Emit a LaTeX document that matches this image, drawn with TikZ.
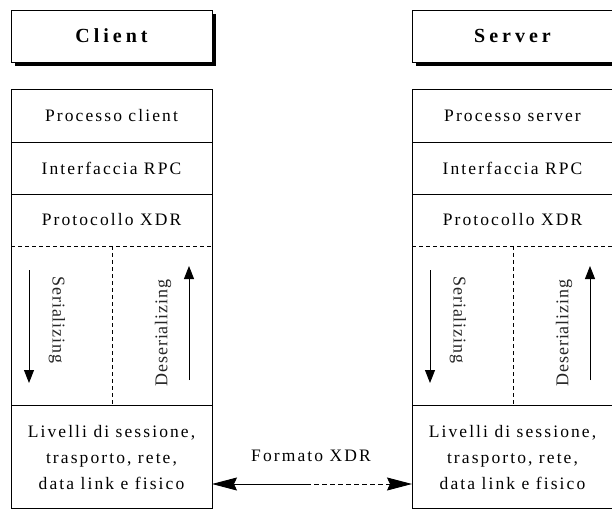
\documentclass[tikz,border=0pt]{standalone}
\usepackage{fontspec}
\setmainfont{Liberation Serif}
\newfontfamily\spacedfont[LetterSpace=12]{Liberation Serif}
\newfontfamily\headfont[LetterSpace=20]{Liberation Serif}
\newfontfamily\sidefont[LetterSpace=5]{Liberation Serif}
\usetikzlibrary{arrows.meta}

\tikzset{
  frame/.style={line width=0.9pt, draw=black},
  dashline/.style={frame, dash pattern=on 4pt off 3pt},
  titlebox/.style={frame, fill=white, minimum width=201pt, minimum height=52pt,
    inner sep=0pt, font=\headfont\bfseries\fontsize{20}{24}\selectfont},
  shadow/.style={fill=black},
  layertext/.style={inner sep=0pt, align=center,
    font=\spacedfont\fontsize{17.5}{26}\selectfont},
  sidetext/.style={inner sep=0pt, text=black!85,
    font=\sidefont\fontsize{18}{20}\selectfont},
  flowarrow/.style={line width=0.9pt, -{Triangle[length=13pt,width=10pt]}},
  linkarrow/.style={line width=0.9pt, -{Stealth[length=25pt,width=13pt,inset=3pt]}},
}

\begin{document}
\begin{tikzpicture}[x=1pt, y=-1pt]
\useasboundingbox (0,0) rectangle (612,510);
\clip (0,0) rectangle (612,510);

% ---------- client side ----------
\fill[shadow] (15,14) rectangle (216,66.5);
\node[titlebox] (ctitle) at (111.5,36) {Client};

\draw[frame] (11,89) rectangle (212,508);
\draw[frame] (11,142) -- (212,142);
\draw[frame] (11,194) -- (212,194);
\draw[dashline] (11,246) -- (212,246);
\draw[frame] (11,405) -- (212,405);
\draw[dashline] (112,246) -- (112,405);

\node[layertext] (cproc) at (111.5,115.5) {Processo client};
\node[layertext] (crpc)  at (111.5,168) {Interfaccia RPC};
\node[layertext] (cxdr)  at (111.5,220) {Protocollo XDR};
\node[layertext] (clow)  at (111.5,458) {Livelli di sessione,\\trasporto, rete,\\data link e fisico};

\node[sidetext, rotate=-90] (cser) at (57,320) {Serializing};
\node[sidetext, rotate=90]  (cdes) at (163,333) {Deserializing};
\coordinate (cserA) at (29,270);
\coordinate (cserB) at (29,383);
\coordinate (cdesA) at (189,380);
\coordinate (cdesB) at (189,266);
\draw[flowarrow] (cserA) -- (cserB);
\draw[flowarrow] (cdesA) -- (cdesB);

% ---------- server side ----------
\fill[shadow] (416,14) rectangle (617,66.5);
\node[titlebox] (stitle) at (512.5,36) {Server};

\draw[frame] (412,89) rectangle (613,508);
\draw[frame] (412,142) -- (613,142);
\draw[frame] (412,194) -- (613,194);
\draw[dashline] (412,246) -- (613,246);
\draw[frame] (412,405) -- (613,405);
\draw[dashline] (513,246) -- (513,405);

\node[layertext] (sproc) at (512.5,115.5) {Processo server};
\node[layertext] (srpc)  at (512.5,168) {Interfaccia RPC};
\node[layertext] (sxdr)  at (512.5,220) {Protocollo XDR};
\node[layertext] (slow)  at (512.5,458) {Livelli di sessione,\\trasporto, rete,\\data link e fisico};

\node[sidetext, rotate=-90] (sser) at (458,320) {Serializing};
\node[sidetext, rotate=90]  (sdes) at (564,333) {Deserializing};
\coordinate (sserA) at (430,270);
\coordinate (sserB) at (430,383);
\coordinate (sdesA) at (590,380);
\coordinate (sdesB) at (590,266);
\draw[flowarrow] (sserA) -- (sserB);
\draw[flowarrow] (sdesA) -- (sdesB);

% ---------- link between the lower layers ----------
\coordinate (cport) at (212,484);
\coordinate (sport) at (412,484);
\coordinate (mid) at (306,484);
\node[layertext] (fmt) at (311,456) {Formato XDR};
\draw[linkarrow] (mid) -- (cport);
\draw[linkarrow, dash pattern=on 5pt off 3pt] (mid) -- (sport);
\end{tikzpicture}
\end{document}
